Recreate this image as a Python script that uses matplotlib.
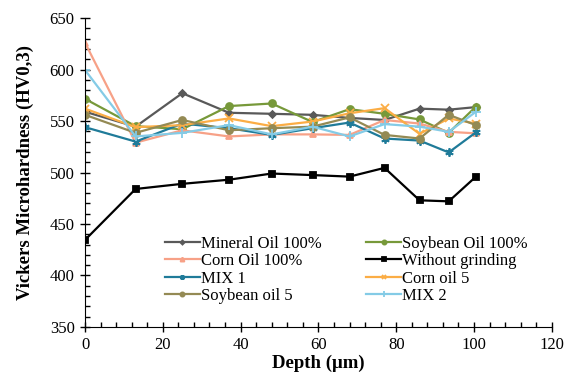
import matplotlib
matplotlib.use("Agg")
import matplotlib.pyplot as plt
from matplotlib.ticker import MultipleLocator

plt.rcParams["font.family"] = ["Liberation Serif", "DejaVu Serif"]

# depth positions of the indentations (um)
depth = [0, 13, 25, 37, 48, 58.5, 68, 77, 86, 93.5, 100.5]

mineral_oil = [559, 544.5, 577, 558, 557, 556, 553, 551, 562, 561, 563.5]
soybean_oil = [571.5, 545, 542, 564.5, 567, 549, 561.5, 557, 551.5, 538.5, 564]
corn_oil = [626, 529, 541, 535, 537, 537, 536.5, 551, 547.5, 539.5, 538]
without_grinding = [434.5, 484, 489, 493, 499, 497.5, 496, 504.5, 473, 472, 496]
mix_1 = [544, 530, 547.5, 543, 536.5, 543, 548.5, 533, 531, 519.5, 539]
corn_oil_5 = [562, 544, 546, 552.5, 545, 549.5, 557.5, 562.5, 537.5, 552.5, 547.5]
soybean_oil_5 = [556, 538.5, 551, 541, 543, 544.5, 553.5, 536.5, 533, 556, 546]
mix_2 = [599.5, 535, 538.5, 546, 537, 544.5, 535, 547, 544.5, 539.5, 559]

series = [
    ("Mineral Oil 100%", mineral_oil, "#595959", "D", 3.5),
    ("Soybean Oil 100%", soybean_oil, "#77993a", "o", 5),
    ("Corn Oil 100%", corn_oil, "#f7a187", "^", 5),
    ("Without grinding", without_grinding, "#000000", "s", 5),
    ("MIX 1", mix_1, "#1f7b99", (6, 2, 0), 6),
    ("Corn oil 5", corn_oil_5, "#fbad45", "x", 6),
    ("Soybean oil 5", soybean_oil_5, "#948a54", "o", 5),
    ("MIX 2", mix_2, "#84cbe6", "+", 7),
]

fig = plt.figure(figsize=(5.76, 3.80), dpi=100)
ax = fig.add_axes([0.1476, 0.1395, 0.8104, 0.8131])

lines = []
for label, vals, color, marker, ms in series:
    ln, = ax.plot(depth, vals, color=color, lw=1.6, marker=marker, ms=ms,
                  mew=1.3, label=label)
    lines.append(ln)

ax.set_xlim(0, 120)
ax.set_ylim(350, 650)
ax.xaxis.set_major_locator(MultipleLocator(20))
ax.xaxis.set_minor_locator(MultipleLocator(4))
ax.yaxis.set_major_locator(MultipleLocator(50))
ax.yaxis.set_minor_locator(MultipleLocator(10))
ax.tick_params(which="major", direction="inout", length=7, width=1, labelsize=12, pad=4)
ax.tick_params(which="minor", direction="in", length=3.5, width=1)
for side in ("top", "right"):
    ax.spines[side].set_visible(False)

ax.set_xlabel("Depth (\u03bcm)", fontsize=13.5, fontweight="bold", labelpad=1)
ax.set_ylabel("Vickers Microhardness (HV0,3)", fontsize=13.5, fontweight="bold", labelpad=11)

# legend is filled row by row in the original, matplotlib fills by column
order = [0, 2, 4, 6, 1, 3, 5, 7]
ax.legend([lines[i] for i in order], [series[i][0] for i in order],
          ncol=2, frameon=False, fontsize=12, loc="upper left",
          bbox_to_anchor=(0.171, 0.295), borderpad=0, borderaxespad=0,
          handlelength=2.1, handletextpad=0.05, columnspacing=2.7,
          labelspacing=0.08, markerscale=0.6)

fig.savefig("out.png", dpi=100)
